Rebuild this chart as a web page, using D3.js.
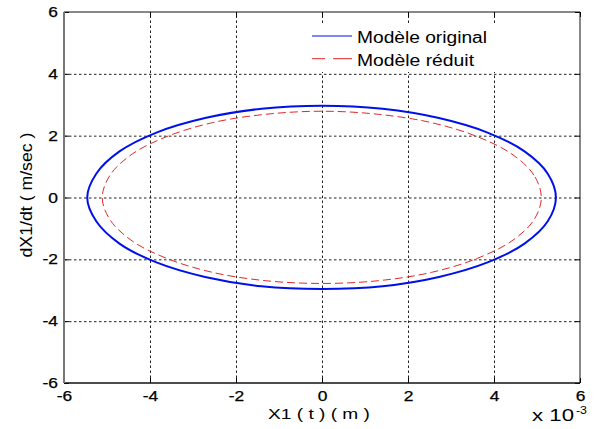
<!DOCTYPE html>
<html><head><meta charset="utf-8">
<script src="https://cdn.jsdelivr.net/npm/d3@7"></script>
<style>body{margin:0;background:#fff}</style></head>
<body><svg id="c" width="596" height="429"></svg>
<script>
const xTicks = [-6, -4, -2, 0, 2, 4, 6];
const yTicks = [-6, -4, -2, 0, 2, 4, 6];
const seriesNames = ["Modèle original", "Modèle réduit"];
const xLabel = "X1 ( t ) ( m )";
const yLabel = "dX1/dt ( m/sec )";
const xExponent = "-3";
// X1 in units of 1e-3 m, dX1/dt in m/sec
const originalX = [5.44, 5.25, 4.71, 3.85, 2.72, 1.41, 0, -1.41, -2.72, -3.85, -4.71, -5.25,
                   -5.46, -5.25, -4.71, -3.85, -2.72, -1.41, 0, 1.41, 2.72, 3.85, 4.71, 5.25];
const originalY = [0, 0.77, 1.49, 2.10, 2.57, 2.87, 2.97, 2.87, 2.57, 2.10, 1.49, 0.77,
                   0, -0.77, -1.49, -2.10, -2.57, -2.87, -2.96, -2.87, -2.57, -2.10, -1.49, -0.77];
const reducedX = [5.10, 4.93, 4.42, 3.61, 2.55, 1.32, 0, -1.32, -2.55, -3.61, -4.42, -4.93,
                  -5.11, -4.93, -4.42, -3.61, -2.55, -1.32, 0, 1.32, 2.55, 3.61, 4.42, 4.93];
const reducedY = [0, 0.72, 1.40, 1.97, 2.42, 2.69, 2.79, 2.69, 2.42, 1.97, 1.40, 0.72,
                  0, -0.72, -1.40, -1.97, -2.42, -2.69, -2.78, -2.69, -2.42, -1.97, -1.40, -0.72];

const L = 64, R = 580, T = 12, B = 383;
const svg = d3.select("#c");
const FONT = "'Liberation Sans', Arial, Helvetica, sans-serif";
const x = d3.scaleLinear().domain([-6, 6]).range([L, R]);
const y = d3.scaleLinear().domain([-6, 6]).range([B, T]);
const fmt = d => String(d);

function stretch(sel, f) {
  sel.each(function () {
    const w = this.getComputedTextLength();
    this.setAttribute("textLength", w * f);
    this.setAttribute("lengthAdjust", "spacingAndGlyphs");
  });
}
function fit(sel, w) {
  sel.attr("textLength", w).attr("lengthAdjust", "spacingAndGlyphs");
}

// grid
const gx = svg.append("g").attr("transform", `translate(0,${B})`)
  .call(d3.axisBottom(x).tickValues(xTicks.slice(1, -1)).tickSize(-(B - T)).tickFormat(""));
const gy = svg.append("g").attr("transform", `translate(${L},0)`)
  .call(d3.axisLeft(y).tickValues(yTicks.slice(1, -1)).tickSize(-(R - L)).tickFormat(""));
[gx, gy].forEach(g => {
  g.select(".domain").remove();
  g.selectAll("line").attr("stroke", "#222").attr("stroke-width", 1).attr("stroke-dasharray", "2.5,2.5");
});

// inward ticks
const tk = [
  svg.append("g").attr("transform", `translate(0,${B})`).call(d3.axisBottom(x).tickValues(xTicks).tickSize(-5).tickFormat("")),
  svg.append("g").attr("transform", `translate(0,${T})`).call(d3.axisTop(x).tickValues(xTicks).tickSize(-5).tickFormat("")),
  svg.append("g").attr("transform", `translate(${L},0)`).call(d3.axisLeft(y).tickValues(yTicks).tickSize(-5).tickFormat("")),
  svg.append("g").attr("transform", `translate(${R},0)`).call(d3.axisRight(y).tickValues(yTicks).tickSize(-5).tickFormat(""))
];
tk.forEach(g => { g.select(".domain").remove(); g.selectAll("line").attr("stroke", "#000"); });

// curves
const line = d3.line().x(d => x(d[0])).y(d => y(d[1])).curve(d3.curveCatmullRomClosed);
const orig = originalX.map((v, i) => [v, originalY[i]]);
const red = reducedX.map((v, i) => [v, reducedY[i]]);
svg.append("path").attr("d", line(red)).attr("fill", "none")
  .attr("stroke", "#e02828").attr("stroke-width", 1).attr("stroke-dasharray", "8,4");
svg.append("path").attr("d", line(orig)).attr("fill", "none")
  .attr("stroke", "#0010e8").attr("stroke-width", 2);

// frame
svg.append("line").attr("x1", L).attr("x2", R).attr("y1", T).attr("y2", T).attr("stroke", "#111");
svg.append("line").attr("x1", L).attr("x2", R).attr("y1", B).attr("y2", B).attr("stroke", "#111").attr("stroke-width", 1.5);
svg.append("line").attr("x1", R).attr("x2", R).attr("y1", T).attr("y2", B).attr("stroke", "#111");
svg.append("line").attr("x1", L).attr("x2", L).attr("y1", T).attr("y2", B).attr("stroke", "#777").attr("stroke-width", 2);

// tick labels
const lx = svg.append("g").attr("transform", `translate(0,${B})`)
  .call(d3.axisBottom(x).tickValues(xTicks).tickSize(0).tickPadding(8).tickFormat(fmt));
const ly = svg.append("g").attr("transform", `translate(${L},0)`)
  .call(d3.axisLeft(y).tickValues(yTicks).tickSize(0).tickPadding(6).tickFormat(fmt));
[lx, ly].forEach(g => {
  g.select(".domain").remove();
  g.selectAll("text").attr("font-family", FONT).attr("font-size", 14.5).attr("fill", "#000")
    .attr("stroke", "#000").attr("stroke-width", 0.25);
  stretch(g.selectAll("text"), 1.2);
});

// axis titles
fit(svg.append("text").attr("x", 319).attr("y", 419).attr("text-anchor", "middle")
  .attr("font-family", FONT).attr("font-size", 14.5).text(xLabel), 102);
fit(svg.append("text").attr("transform", "translate(31.5,195) rotate(-90)").attr("text-anchor", "middle")
  .attr("font-family", FONT).attr("font-size", 16).text(yLabel), 125);
fit(svg.append("text").attr("x", 532).attr("y", 421).attr("font-family", FONT).attr("font-size", 16).text("x 10"), 42);
fit(svg.append("text").attr("x", 576).attr("y", 414).attr("font-family", FONT).attr("font-size", 10).text(xExponent), 11);

// legend
svg.append("rect").attr("x", 305).attr("y", 24).attr("width", 198).attr("height", 48).attr("fill", "#fff");
const legColors = ["#0010e8", "#e02828"];
const legDash = [null, "13,8,20"];
const legY = [36, 58.7];
seriesNames.forEach((n, i) => {
  svg.append("line").attr("x1", 312).attr("x2", 352).attr("y1", legY[i]).attr("y2", legY[i])
    .attr("stroke", legColors[i]).attr("stroke-width", 1).attr("stroke-dasharray", legDash[i]);
  fit(svg.append("text").attr("x", 357).attr("y", legY[i] + 6.8).attr("font-family", FONT)
    .attr("font-size", 16).text(n), i === 0 ? 130 : 117);
});
</script></body></html>
